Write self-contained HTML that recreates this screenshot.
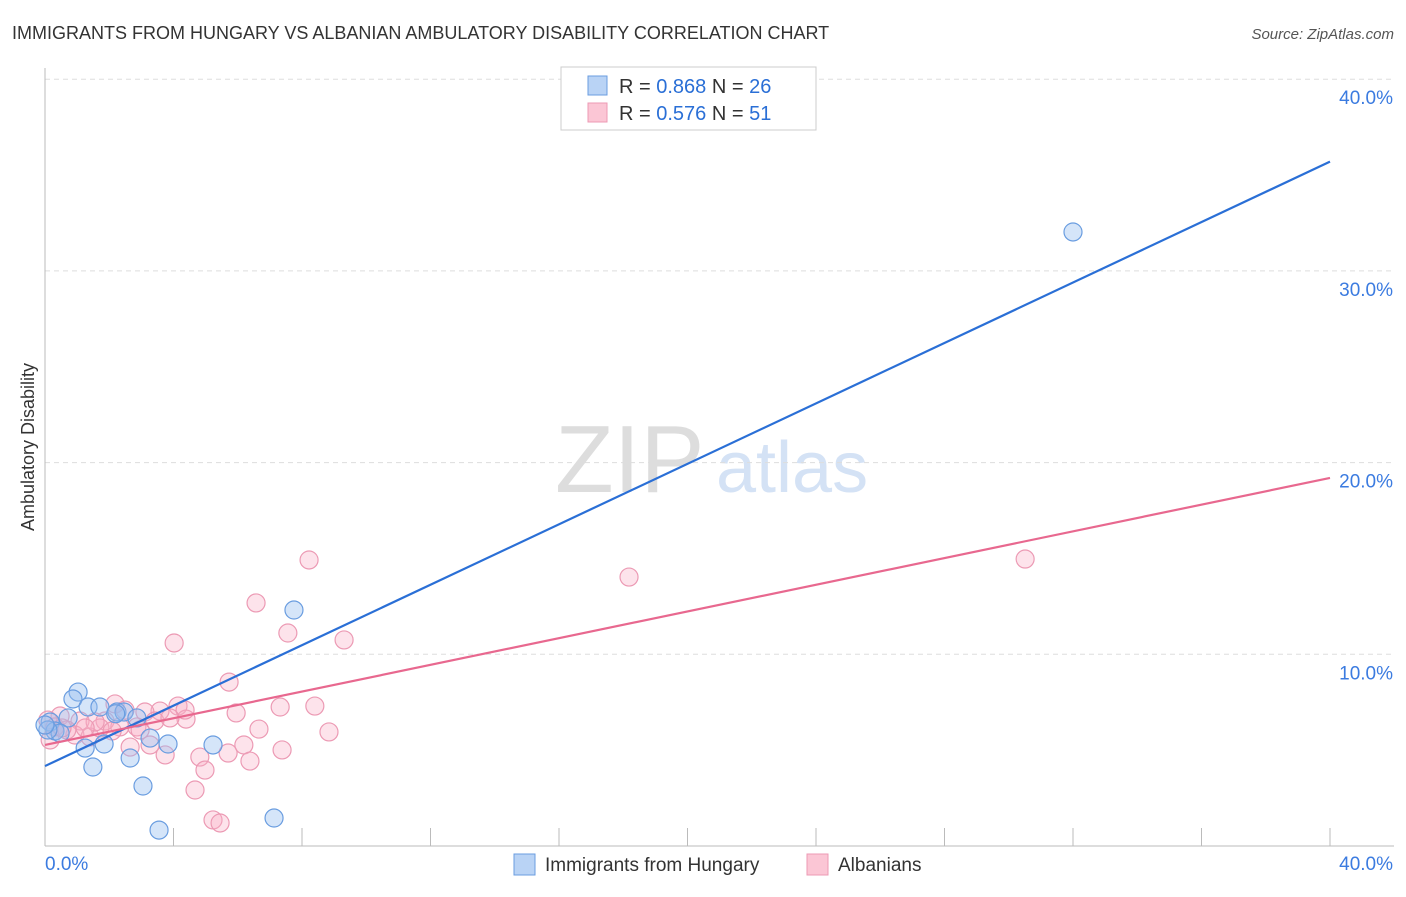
<!DOCTYPE html>
<html><head><meta charset="utf-8"><style>
body{margin:0;background:#fff;font-family:"Liberation Sans",sans-serif;}
svg text{font-family:"Liberation Sans",sans-serif;}
</style></head><body>
<svg width="1406" height="892" id="c">
<text x="12" y="39" font-size="18" fill="#333">IMMIGRANTS FROM HUNGARY VS ALBANIAN AMBULATORY DISABILITY CORRELATION CHART</text>
<text x="1394" y="39" font-size="15" fill="#555" font-style="italic" text-anchor="end">Source: ZipAtlas.com</text>
<text x="42" y="455" font-size="18" fill="#333" transform="rotate(-90 34 455)" text-anchor="middle">Ambulatory Disability</text>
<g><text x="555" y="492" font-size="96" fill="#ddd" font-family="Liberation Serif">ZIP</text><text x="716" y="492" font-size="72" fill="#d4e2f5">atlas</text></g>
<g id="grid"></g><g id="pts"></g><g id="lines"></g>
<g>
<rect x="561" y="67" width="255" height="63" fill="#fff" stroke="#ccc"/>
<rect x="588" y="76" width="19" height="19" fill="#b9d3f5" stroke="#6a9de0"/>
<rect x="588" y="103" width="19" height="19" fill="#fbc6d5" stroke="#ec9ab4"/>
<text x="619" y="93" font-size="20" fill="#333">R = <tspan fill="#2a6fd6">0.868</tspan>   N = <tspan fill="#2a6fd6">26</tspan></text>
<text x="619" y="120" font-size="20" fill="#333">R = <tspan fill="#2a6fd6">0.576</tspan>   N =  <tspan fill="#2a6fd6">51</tspan></text>
</g>
<g>
<rect x="514" y="854" width="21" height="21" fill="#b9d3f5" stroke="#6a9de0"/>
<text x="545" y="871" font-size="19" fill="#333">Immigrants from Hungary</text>
<rect x="807" y="854" width="21" height="21" fill="#fbc6d5" stroke="#ec9ab4"/>
<text x="838" y="871" font-size="19" fill="#333">Albanians</text>
</g>
</svg>
<script>
const xTicks=[0,40];
const yTicks=[10,20,30,40];
const hungaryX=[32.0,7.75,1.03,0.87,1.34,1.71,2.24,2.46,2.86,0.72,0.16,0.31,0.47,0.09,1.25,1.84,3.27,3.83,5.23,2.65,1.49,3.05,3.55,7.13,2.2,0.0];
const hungaryY=[32.03,12.31,8.03,7.67,7.25,7.25,6.99,6.99,6.68,6.68,6.47,6.0,5.89,6.05,5.11,5.32,5.63,5.32,5.27,4.59,4.12,3.13,0.83,1.46,6.9,6.31];
const albX=[8.22,18.18,30.51,6.57,7.56,9.31,4.02,5.73,8.40,7.32,5.95,4.14,3.58,4.39,2.18,2.49,3.11,1.87,1.09,0.47,0.09,0.31,0.93,1.40,1.71,2.33,2.86,3.27,2.65,3.74,4.82,4.98,5.70,6.19,6.38,6.66,7.38,8.84,4.67,5.23,5.45,0.68,1.56,2.09,2.96,3.42,4.36,0.16,0.53,3.89,1.25];
const albY=[14.92,14.03,14.97,12.68,11.11,10.75,10.59,8.55,7.30,7.25,6.94,7.30,7.04,6.62,7.41,7.09,6.99,6.52,6.52,6.78,6.57,6.21,5.79,5.69,6.16,6.21,6.21,5.27,5.16,4.75,4.64,3.96,4.85,5.27,4.43,6.10,5.01,5.95,2.92,1.36,1.20,6.05,6.47,6.00,6.05,6.52,7.09,5.53,6.16,6.68,6.16];
const hungaryFit=[4.17,35.7];
const albFit=[5.27,19.2];
const NS='http://www.w3.org/2000/svg';
const sx=v=>45+v*32.125, sy=v=>846-v*19.17;
function mk(t,a,p){const e=document.createElementNS(NS,t);for(const k in a)e.setAttribute(k,a[k]);document.getElementById(p).appendChild(e);return e;}
const svg=document.getElementById('c');
yTicks.forEach(t=>{
 const l=mk('line',{x1:45,x2:1394,y1:sy(t),y2:sy(t),stroke:'#ddd','stroke-dasharray':'5,4'},'grid');
 
 
 const tx=mk('text',{x:1393,y:sy(t)+25,'font-size':19,fill:'#3b7be0','text-anchor':'end'},'grid');
 tx.textContent=t.toFixed(1)+'%';
 
 
});
const ax=mk('line',{x1:45,x2:1394,y1:846,y2:846,stroke:'#bbb'},'grid');


const ay=mk('line',{x1:45,x2:45,y1:68,y2:846,stroke:'#bbb'},'grid');


for(let v=4;v<=40;v+=4){const t=mk('line',{x1:sx(v),x2:sx(v),y1:828,y2:846,stroke:'#bbb'},'grid');
 
 }
xTicks.forEach((t,i)=>{const tx=mk('text',{x:i?1393:45,y:870,'font-size':19,fill:'#3b7be0','text-anchor':i?'end':'start'},'grid');
 tx.textContent=t.toFixed(1)+'%';
 
 });
albX.forEach((x,i)=>{const c=mk('circle',{cx:sx(x),cy:sy(albY[i]),r:9,fill:'rgba(248,175,198,0.35)',stroke:'#ec9ab4','stroke-width':1.2},'pts');
 
 });
hungaryX.forEach((x,i)=>{const c=mk('circle',{cx:sx(x),cy:sy(hungaryY[i]),r:9,fill:'rgba(150,190,240,0.4)',stroke:'#6a9de0','stroke-width':1.2},'pts');
 
 });
const l1=mk('line',{x1:sx(0),y1:sy(hungaryFit[0]),x2:sx(40),y2:sy(hungaryFit[1]),stroke:'#2a6fd6','stroke-width':2.2},'lines');


const l2=mk('line',{x1:sx(0),y1:sy(albFit[0]),x2:sx(40),y2:sy(albFit[1]),stroke:'#e8688f','stroke-width':2.2},'lines');


</script>
</body></html>
